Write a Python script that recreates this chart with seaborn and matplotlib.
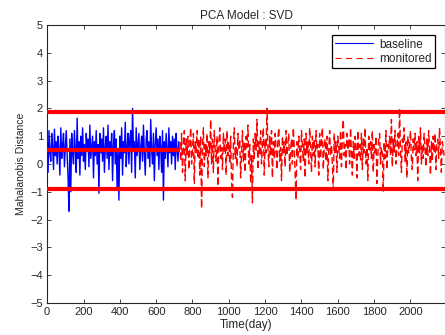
import numpy as np
import pandas as pd
import seaborn as sns
import matplotlib.pyplot as plt

# baseline period, one value every 5 days (0..725)
baseline_vals = [
  0.9, -0.3, 1.2, 0.4, 0.1, 1.1, 0.6, -0.2, 1.25, 0.3,
  0.8, 0.0, 1.0, 0.5, -0.4, 1.3, 0.2, 0.7, 1.1, -0.1,
  0.6, 1.2, 0.3, -0.5, -1.7, 0.9, -1.0, 1.1, 0.4, 0.0,
  1.2, 0.5, -0.3, 1.65, 0.2, 0.8, -0.4, 1.0, 0.3, 1.3,
  0.1, 0.7, -0.2, 1.1, 0.5, 0.9, -0.1, 1.4, 0.2, 0.6,
  1.0, -0.5, 0.8, 0.3, 1.2, 0.0, 0.7, -1.05, 1.1, 0.4,
  0.9, 0.1, 1.3, -0.3, 0.6, 1.0, 0.2, 1.4, -0.2, 0.8,
  0.3, 1.1, -0.6, 0.7, 1.2, 0.0, 0.9, -0.9, 0.5, -1.3,
  1.0, 0.2, 1.3, -0.4, 0.8, 0.4, 1.5, -0.1, 0.6, 1.1,
  0.0, 0.9, 1.2, -0.3, 2.0, 0.5, 0.8, -0.5, 1.3, 0.3,
  0.7, 1.1, -0.2, 0.6, 1.0, 0.1, 1.4, 0.4, -0.4, 0.9,
  1.2, 0.2, 0.8, -0.1, 1.6, 0.5, 0.0, 1.1, -0.6, 0.7,
  1.3, 0.3, 0.9, -0.2, 1.0, 0.6, -0.3, 1.2, -1.3, 0.8,
  0.2, 1.1, 0.5, -0.1, 1.3, 0.4, 0.8, 0.0, 1.0, 0.3,
  0.9, -0.2, 1.1, 0.5, 0.1, 0.8,
]

# monitored period, one value every 5 days (730..2185)
monitored_vals = [
  0.8, 0.1, 1.1, -0.3, 0.6, 1.2, -0.6, 0.9, 0.3, 1.0,
  -0.2, 0.7, 1.3, 0.0, 0.5, 1.1, -0.7, 0.8, 0.4, 1.2,
  0.2, 0.9, -0.4, 1.0, -1.6, 0.6, 1.3, -0.1, 0.7, 0.3,
  1.1, -0.5, 0.8, 0.4, 1.6, 0.0, 0.9, -0.3, 1.2, 0.5,
  0.1, 1.0, -0.8, 0.7, 1.3, 0.2, 0.6, -0.2, 1.1, 0.4,
  0.9, -0.4, 1.2, 0.3, 0.8, 0.0, 1.0, -0.6, -1.2, 0.7,
  1.3, 0.2, 0.6, -0.1, 1.1, 0.5, 0.9, -0.5, 0.4, 1.2,
  0.1, 0.8, -0.3, 1.0, 0.6, 1.4, 0.0, 0.7, -0.7, 0.3,
  -1.4, 0.9, 0.2, 1.1, 0.5, 1.6, -0.2, 0.8, 0.3, 1.2,
  0.0, 0.7, 1.3, -0.4, 0.9, 0.4, 2.0, 0.6, -0.1, 1.0,
  0.3, 1.2, -0.5, 0.8, 0.2, 1.1, 0.5, -0.2, 0.9, 1.3,
  0.1, 0.6, -0.6, 1.0, 0.4, 0.8, -0.1, 1.2, 0.3, 0.7,
  1.1, -0.3, 0.5, 0.9, 0.0, 1.3, 0.6, -0.4, -1.3, 0.8,
  0.2, 1.0, 0.5, -0.2, 1.2, 0.7, 0.1, 0.9, -0.5, 1.1,
  0.4, 0.8, 0.0, 1.3, 0.6, -0.3, 1.0, 0.3, 0.9, -0.1,
  1.2, 0.5, 0.7, -0.4, 1.1, 0.2, 0.8, 1.3, -0.2, 0.6,
  0.9, 0.1, 1.0, -0.6, 0.5, 1.2, 0.3, 0.7, 0.0, -0.95,
  1.1, 0.4, 0.8, -0.3, 1.0, 0.6, 0.2, 1.2, -0.1, 0.9,
  1.6, 0.3, 0.7, -0.2, 1.1, 0.5, 0.9, 0.0, 1.3, 0.4,
  -0.4, 0.8, 0.2, 1.0, 0.6, -0.5, 1.2, 0.3, 0.7, 0.1,
  1.1, -0.2, 0.9, 0.4, 1.3, 0.0, 0.6, -0.6, 1.0, 0.5,
  0.8, 0.2, 1.2, -0.3, 0.7, 0.4, 1.0, -0.7, 0.3, 0.9,
  1.1, 0.0, 0.6, 0.4, -1.0, 0.8, 0.2, 1.2, -0.2, 0.7,
  0.5, 1.0, 0.3, 1.6, -0.1, 0.9, 0.4, 1.2, 0.0, 0.6,
  1.1, 0.3, 2.0, 0.5, -0.3, 0.9, 0.7, 1.3, 0.1, 0.8,
  -0.5, 1.0, 0.4, 0.7, 1.2, 0.2, -0.2, 0.9, 0.5, 1.1,
  0.3, 0.8, -0.6, 1.0, 0.4, 1.3, 0.0, 0.7, 0.2, 1.1,
  0.6, -0.1, 0.9, 0.3, 1.2, 0.5, -0.4, 0.8, 0.1, 1.0,
  0.4, 1.1, -0.2, 0.7, 0.9, 0.2, 1.3, 0.5, -0.3, 0.8,
  0.6, 0.3,
]

step = 5
baseline_start = 0
monitored_start = 730
baseline_end = 730
upper_limit = 1.88
center_line = 0.49
lower_limit = -0.9
x_max = 2190


def main():
  sns.set_style('ticks')
  plt.rcParams['font.family'] = ['Liberation Sans', 'DejaVu Sans']

  df_b = pd.DataFrame({'day': baseline_start + step * np.arange(len(baseline_vals)),
                       'dist': baseline_vals})
  df_m = pd.DataFrame({'day': monitored_start + step * np.arange(len(monitored_vals)),
                       'dist': monitored_vals})

  fig = plt.figure(figsize=(4.45, 3.35), dpi=100)
  ax = fig.add_axes([0.106, 0.0955, 0.894, 0.83])

  sns.lineplot(data=df_b, x='day', y='dist', color='blue', lw=1.0, ax=ax, label='baseline')
  sns.lineplot(data=df_m, x='day', y='dist', color='red', lw=1.0, ax=ax, label='monitored')
  ax.lines[-1].set_linestyle((0, (5, 2.5)))

  ax.axhline(upper_limit, color='red', lw=3, zorder=5)
  ax.axhline(lower_limit, color='red', lw=3, zorder=5)
  ax.hlines(center_line, 0, baseline_end, color='red', lw=3, zorder=5)

  ax.set_xlim(0, x_max)
  ax.set_ylim(-5, 5)
  ax.set_xticks(range(0, 2001, 200))
  ax.set_yticks(range(-5, 6))
  ax.tick_params(direction='in', top=True, right=True, labelsize=8, length=3, width=0.6, pad=3)
  for s in ax.spines.values():
    s.set_linewidth(0.8)
    s.set_visible(True)

  ax.set_title('PCA Model : SVD', fontsize=8.5, pad=4)
  ax.set_xlabel('Time(day)', fontsize=8.5, labelpad=1)
  ax.set_ylabel('Mahalanobis Distance', fontsize=7.5, labelpad=3)

  leg = ax.legend(loc='upper right', fontsize=8.5, frameon=True, fancybox=False,
                  edgecolor='black', framealpha=1, borderpad=0.3, handlelength=3.2,
                  handletextpad=0.5, bbox_to_anchor=(0.99, 0.985), labelspacing=0.2)
  leg.get_frame().set_linewidth(0.9)
  for ln in leg.get_lines():
    ln.set_linewidth(0.8)
  leg.get_lines()[1].set_dashes((5.5, 4))

  plt.savefig('out.png', dpi=100)


if __name__ == '__main__':
  main()
